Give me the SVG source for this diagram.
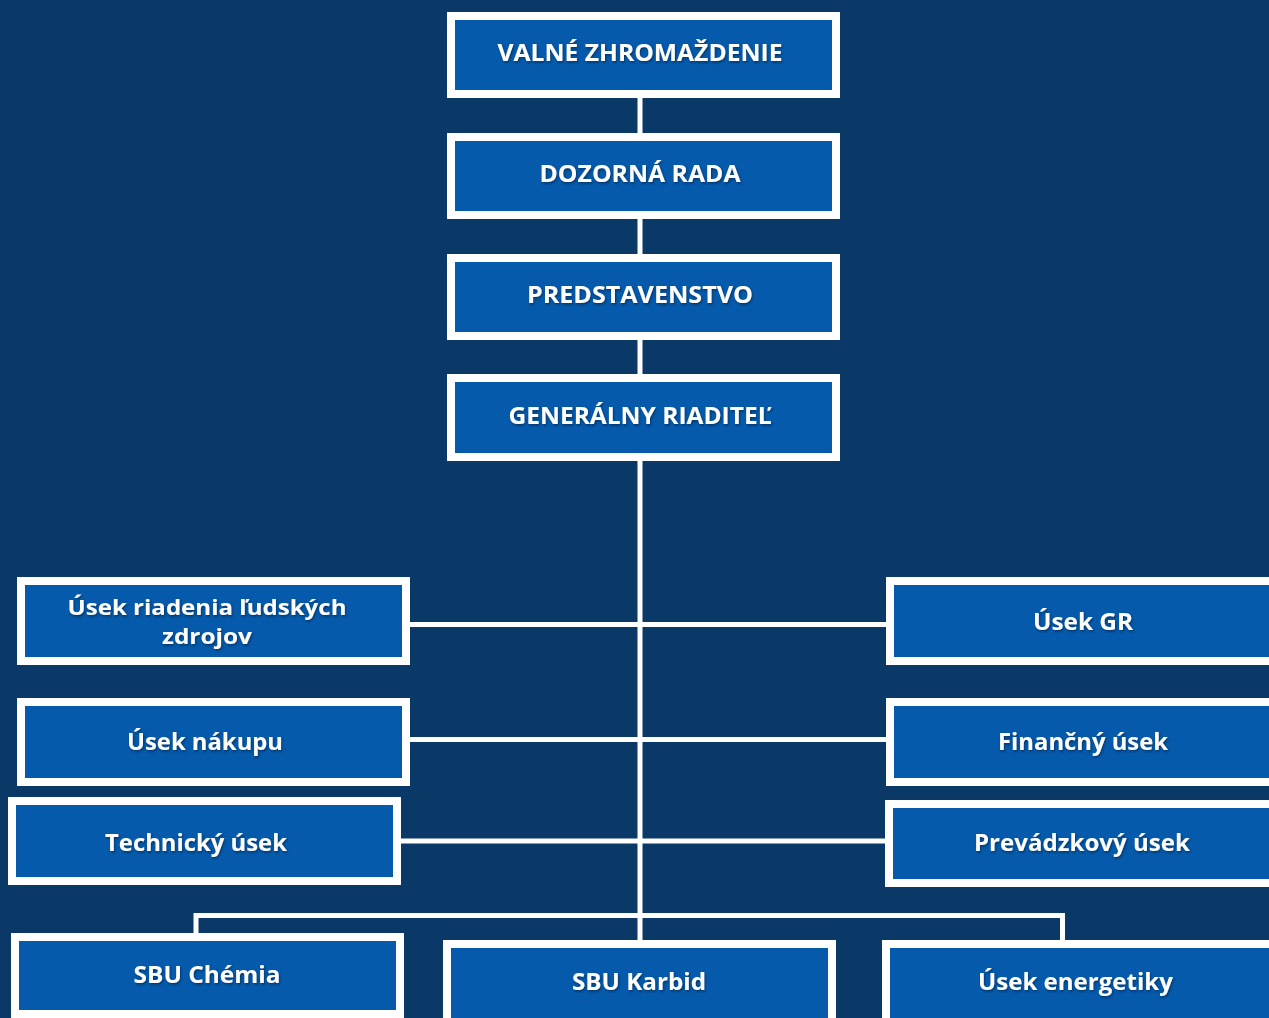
<svg xmlns="http://www.w3.org/2000/svg" width="1269" height="1018" viewBox="0 0 1269 1018">
<style>
.box{fill:#055aab;stroke:#ffffff;stroke-width:8}
.edge{fill:none;stroke:#ffffff;stroke-width:5}
.t{font-family:"Open Sans","Noto Sans","Liberation Sans",sans-serif;font-weight:bold;font-size:23px;fill:#ffffff;text-anchor:middle;filter:url(#sh)}
.t2{font-size:21px}
</style>
<defs>
<filter id="sh" x="-10%" y="-30%" width="120%" height="160%">
<feDropShadow dx="1" dy="1.5" stdDeviation="1.2" flood-color="#001a3a" flood-opacity="0.6"/>
</filter>
</defs>
<rect x="0" y="0" width="1269" height="1018" fill="#0a3968"/>
<g id="connectors">
<line class="edge" x1="640" y1="98" x2="640" y2="942"/>
<line class="edge" x1="408" y1="624.5" x2="888" y2="624.5"/>
<line class="edge" x1="408" y1="739.5" x2="888" y2="739.5"/>
<line class="edge" x1="399" y1="841" x2="887" y2="841"/>
<polyline class="edge" points="196,935 196,915.5 1062.5,915.5 1062.5,942"/>
</g>
<g id="valne"><rect class="box" x="451" y="16" width="385" height="78"/><text class="t" x="640" y="61" textLength="285" lengthAdjust="spacingAndGlyphs">VALNÉ ZHROMAŽDENIE</text></g>
<g id="dozorna"><rect class="box" x="451" y="137" width="385" height="78"/><text class="t" x="640" y="182" textLength="201" lengthAdjust="spacingAndGlyphs">DOZORNÁ RADA</text></g>
<g id="predstavenstvo"><rect class="box" x="451" y="258" width="385" height="78"/><text class="t" x="640" y="303" textLength="226" lengthAdjust="spacingAndGlyphs">PREDSTAVENSTVO</text></g>
<g id="gr"><rect class="box" x="451" y="378" width="385" height="79"/><text class="t" x="640" y="424" textLength="263" lengthAdjust="spacingAndGlyphs">GENERÁLNY RIADITEĽ</text></g>
<g id="ludske"><rect class="box" x="21" y="581" width="385" height="80"/><text class="t t2" x="207" y="615" textLength="279" lengthAdjust="spacingAndGlyphs">Úsek riadenia ľudských</text><text class="t t2" x="207" y="644" textLength="90" lengthAdjust="spacingAndGlyphs">zdrojov</text></g>
<g id="usekgr"><rect class="box" x="890" y="581" width="392" height="80"/><text class="t" x="1083" y="630" textLength="100" lengthAdjust="spacingAndGlyphs">Úsek GR</text></g>
<g id="nakup"><rect class="box" x="21" y="702" width="385" height="80"/><text class="t" x="205" y="750" textLength="156" lengthAdjust="spacingAndGlyphs">Úsek nákupu</text></g>
<g id="financny"><rect class="box" x="890" y="702" width="392" height="80"/><text class="t" x="1083" y="750" textLength="170" lengthAdjust="spacingAndGlyphs">Finančný úsek</text></g>
<g id="technicky"><rect class="box" x="12" y="801" width="385" height="80"/><text class="t" x="196" y="851" textLength="182" lengthAdjust="spacingAndGlyphs">Technický úsek</text></g>
<g id="prevadzkovy"><rect class="box" x="889" y="804" width="393" height="79"/><text class="t" x="1082" y="851" textLength="216" lengthAdjust="spacingAndGlyphs">Prevádzkový úsek</text></g>
<g id="chemia"><rect class="box" x="15" y="937" width="385" height="77"/><text class="t" x="207" y="983" textLength="147" lengthAdjust="spacingAndGlyphs">SBU Chémia</text></g>
<g id="karbid"><rect class="box" x="447" y="944" width="385" height="95"/><text class="t" x="639" y="990" textLength="134" lengthAdjust="spacingAndGlyphs">SBU Karbid</text></g>
<g id="energetika"><rect class="box" x="886" y="944" width="392" height="95"/><text class="t" x="1075.5" y="990" textLength="195" lengthAdjust="spacingAndGlyphs">Úsek energetiky</text></g>
</svg>
